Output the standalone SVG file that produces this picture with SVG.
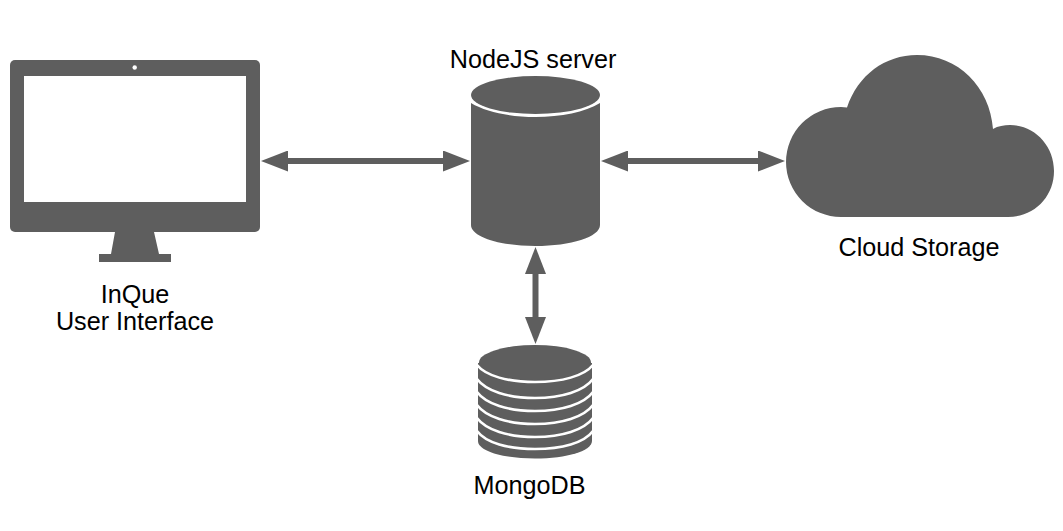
<svg xmlns="http://www.w3.org/2000/svg" width="1063" height="531" viewBox="0 0 1063 531">
  <style>
    .dark { fill: #5e5e5e; }
    .gap { fill: none; stroke: #ffffff; stroke-width: 2.6; }
    .shaft { fill: none; stroke: #5e5e5e; stroke-width: 6; }
    .label { font-family: "Liberation Sans", Arial, sans-serif; font-size: 25.2px; fill: #000000; text-anchor: middle; }
  </style>
  <defs>
    <marker id="head" viewBox="0 0 27 21" refX="5" refY="10.5" markerWidth="27" markerHeight="21" markerUnits="userSpaceOnUse" orient="auto-start-reverse">
      <path class="dark" d="M0 0L27 10.500L0 21Z"/>
    </marker>
  </defs>
  <rect width="1063" height="531" fill="#ffffff"/>
  <g id="connectors">
    <line class="shaft" x1="283" y1="161" x2="448" y2="161" marker-start="url(#head)" marker-end="url(#head)"/>
    <line class="shaft" x1="623" y1="161" x2="763" y2="161" marker-start="url(#head)" marker-end="url(#head)"/>
    <line class="shaft" x1="535.5" y1="269" x2="535.5" y2="322" marker-start="url(#head)" marker-end="url(#head)"/>
  </g>
  <g id="monitor">
    <path class="dark" d="M115 232H154L159 254H171V262H99V254H111Z"/>
    <rect class="dark" x="10" y="60" width="250" height="172" rx="5"/>
    <rect x="24" y="76" width="222" height="126" fill="#ffffff"/>
    <circle cx="134.700" cy="67.500" r="2.200" fill="#ffffff"/>
    <text class="label"><tspan x="135" y="303">InQue</tspan><tspan x="135" y="330">User Interface</tspan></text>
  </g>
  <g id="server">
    <path class="dark" d="M471 103C486 112 510 117 535.500 117C561 117 585 112 600 103V225C600 237 571 246 535.500 246C500 246 471 237 471 225Z"/>
    <ellipse class="dark" cx="535.500" cy="95" rx="64.500" ry="19"/>
    <text class="label" x="533" y="68">NodeJS server</text>
  </g>
  <g id="mongodb">
    <path class="dark" d="M478 363V441C478 451 503 458.500 535 458.500C567 458.500 592 451 592 441V363Z"/>
    <ellipse class="dark" cx="535" cy="362.500" rx="56" ry="17.500"/>
    <path class="gap" d="M477 365C486 376 508 382 535 382C562 382 584 376 593 365"/>
    <path class="gap" d="M477 379C486 391 508 398 535 398C562 398 584 391 593 379"/>
    <path class="gap" d="M477 392C486 404 508 411 535 411C562 411 584 404 593 392"/>
    <path class="gap" d="M477 405C486 417 508 424 535 424C562 424 584 417 593 405"/>
    <path class="gap" d="M477 418C486 430 508 437 535 437C562 437 584 430 593 418"/>
    <path class="gap" d="M477 431C486 443 508 449 535 449C562 449 584 443 593 431"/>
    <text class="label" x="529.500" y="494">MongoDB</text>
  </g>
  <g id="cloud">
    <path class="dark" d="M841 217A55 55 0 0 1 841 107Q844 107 847 107.500C858 75 885 55 917 55C958 55 990 87 993 129C998 126 1004 125 1010 125C1034 125 1054 145 1054 171C1054 197 1034 217 1008 217Z"/>
    <text class="label" x="919" y="256">Cloud Storage</text>
  </g>
</svg>
